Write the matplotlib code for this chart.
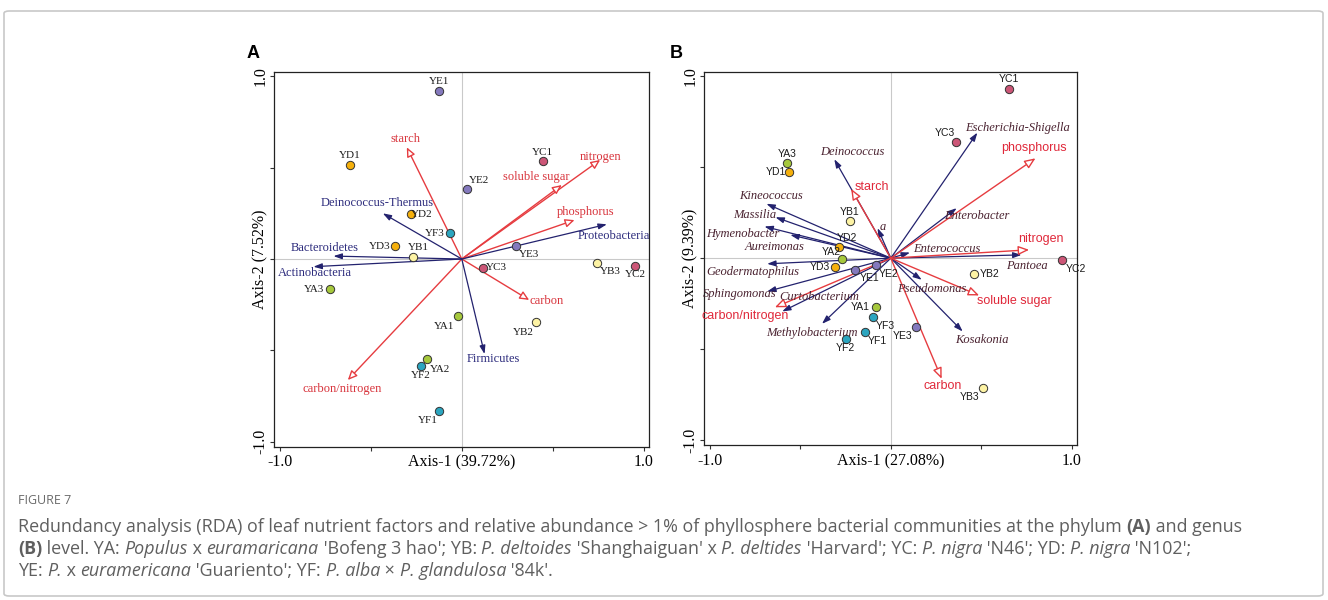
import matplotlib
matplotlib.use("Agg")
import matplotlib.pyplot as plt
from matplotlib.patches import FancyBboxPatch

# ---------------- data ----------------
SAMPLES = ['YA1', 'YA2', 'YA3', 'YB1', 'YB2', 'YB3', 'YC1', 'YC2', 'YC3',
           'YD1', 'YD2', 'YD3', 'YE1', 'YE2', 'YE3', 'YF1', 'YF2', 'YF3']

A_x = [-0.02, -0.189, -0.725, -0.267, 0.405, 0.745, 0.445, 0.951, 0.114,
       -0.614, -0.277, -0.368, -0.123, 0.029, 0.297, -0.123, -0.223, -0.066]
A_y = [-0.312, -0.549, -0.166, 0.011, -0.345, -0.02, 0.535, -0.038, -0.047,
       0.515, 0.246, 0.069, 0.92, 0.381, 0.073, -0.832, -0.586, 0.142]

B_x = [-0.081, -0.27, -0.573, -0.226, 0.459, 0.507, 0.654, 0.948, 0.36,
       -0.564, -0.285, -0.307, -0.195, -0.079, 0.138, -0.145, -0.25, -0.101]
B_y = [-0.267, -0.004, 0.524, 0.203, -0.088, -0.714, 0.93, -0.009, 0.639,
       0.473, 0.064, -0.051, -0.066, -0.038, -0.377, -0.405, -0.447, -0.322]

ENV = ['starch', 'nitrogen', 'soluble sugar', 'phosphorus', 'carbon', 'carbon/nitrogen']
A_env_x = [-0.302, 0.76, 0.549, 0.619, 0.37, -0.626]
A_env_y = [0.611, 0.542, 0.405, 0.213, -0.224, -0.662]
B_env_x = [-0.219, 0.764, 0.488, 0.799, 0.281, -0.64]
B_env_y = [0.381, 0.046, -0.205, 0.549, -0.663, -0.27]

PHYLA = ['Deinococcus-Thermus', 'Bacteroidetes', 'Actinobacteria', 'Proteobacteria', 'Firmicutes']
A_sp_x = [-0.434, -0.705, -0.815, 0.797, 0.125]
A_sp_y = [0.25, 0.016, -0.042, 0.19, -0.52]

GENERA = ['Deinococcus', 'Escherichia-Shigella', 'Kineococcus', 'Massilia', 'Hymenobacter',
          'Aureimonas', 'a', 'Enterobacter', 'Enterococcus', 'Pantoea', 'Geodermatophilus',
          'Sphingomonas', 'Curtobacterium', 'Methylobacterium', 'Pseudomonas', 'Kosakonia']
B_sp_x = [-0.312, 0.478, -0.687, -0.637, -0.698, -0.555, -0.073, 0.364, 0.106, 0.722,
          -0.683, -0.683, -0.6, -0.38, 0.171, 0.397]
B_sp_y = [0.544, 0.69, 0.299, 0.225, 0.174, 0.128, 0.165, 0.275, 0.031, 0.018,
          -0.031, -0.183, -0.293, -0.361, -0.119, -0.403]

A_AXIS = ['Axis-1 (39.72%)', 'Axis-2 (7.52%)']
B_AXIS = ['Axis-1 (27.08%)', 'Axis-2 (9.39%)']
TICKS = [-1.0, -0.5, 0.0, 0.5, 1.0]
TICK_LABELS = ['-1.0', '', '', '', '1.0']

# ---------------- layout (label placement) ----------------
A_env_lab = {'starch': (-0.308, 0.657), 'nitrogen': (0.762, 0.557),
             'soluble sugar': (0.407, 0.451), 'phosphorus': (0.683, 0.259),
             'carbon': (0.467, -0.228), 'carbon/nitrogen': (-0.658, -0.712)}
A_sp_lab = {'Deinococcus-Thermus': (-0.467, 0.307), 'Bacteroidetes': (-0.756, 0.062),
            'Actinobacteria': (-0.806, -0.075), 'Proteobacteria': (0.837, 0.128),
            'Firmicutes': (0.174, -0.547)}
B_env_lab = {'starch': (-0.107, 0.39), 'phosphorus': (0.792, 0.604),
             'nitrogen': (0.828, 0.104), 'soluble sugar': (0.68, -0.234),
             'carbon': (0.285, -0.705), 'carbon/nitrogen': (-0.804, -0.317)}
B_sp_lab = {'Deinococcus': (-0.215, 0.586), 'Escherichia-Shigella': (0.698, 0.718),
            'Kineococcus': (-0.659, 0.339), 'Massilia': (-0.749, 0.238),
            'Hymenobacter': (-0.817, 0.134), 'Aureimonas': (-0.643, 0.062),
            'a': (-0.044, 0.174), 'Enterobacter': (0.474, 0.234),
            'Enterococcus': (0.309, 0.051), 'Pantoea': (0.749, -0.042),
            'Geodermatophilus': (-0.76, -0.077), 'Sphingomonas': (-0.837, -0.198),
            'Curtobacterium': (-0.393, -0.216), 'Methylobacterium': (-0.437, -0.412),
            'Pseudomonas': (0.224, -0.17), 'Kosakonia': (0.501, -0.449)}
A_off = {'YA1': (-14, -10), 'YA2': (13, -10), 'YA3': (-16, 0), 'YB1': (5, 10),
         'YB2': (-12, -10), 'YB3': (13, -9), 'YC1': (0, 9), 'YC2': (0, -9),
         'YC3': (14, 0), 'YD1': (0, 9), 'YD2': (10, 0), 'YD3': (-15, 0),
         'YE1': (0, 9), 'YE2': (12, 9), 'YE3': (13, -9), 'YF1': (-12, -9),
         'YF2': (0, -9), 'YF3': (-15, 0)}
B_off = {'YA1': (-16, 0), 'YA2': (-11, 7), 'YA3': (0, 9), 'YB1': (0, 9),
         'YB2': (16, 0), 'YB3': (-13, -9), 'YC1': (0, 10), 'YC2': (13, -9),
         'YC3': (-11, 9), 'YD1': (-13, 0), 'YD2': (8, 9), 'YD3': (-15, 0),
         'YE1': (14, -8), 'YE2': (12, -9), 'YE3': (-13, -9), 'YF1': (13, -9),
         'YF2': (0, -9), 'YF3': (13, -9)}

GROUP_COLORS = {'YA': '#a6c83c', 'YB': '#fdf3a4', 'YC': '#cc5677',
                'YD': '#f5b00c', 'YE': '#8479bd', 'YF': '#2ba5bf'}
RED = '#e63c40'
NAVY = '#23226e'
SERIF = 'Liberation Serif'
SANS = 'Liberation Sans'

W, H = 1328, 600
fig = plt.figure(figsize=(W / 100, H / 100), dpi=100)
fig.patch.set_facecolor('white')

# outer frame
frame = FancyBboxPatch((4 / W, 4 / H), (W - 9) / W, (H - 15) / H,
                       boxstyle='round,pad=0,rounding_size=0.004',
                       transform=fig.transFigure, fc='none', ec='#c8c8c8', lw=1.2)
fig.patches.append(frame)


def px_ax(x0, y0, x1, y1):
    return fig.add_axes([x0 / W, 1 - y1 / H, (x1 - x0) / W, (y1 - y0) / H])


def setup_axes(ax, axis_labels):
    ax.set_xlim(-1.03, 1.03)
    ax.set_ylim(-1.027, 1.025)
    ax.axhline(0, color='#c9c9c9', lw=0.8, zorder=0)
    ax.axvline(0, color='#c9c9c9', lw=0.8, zorder=0)
    ax.set_xticks(TICKS)
    ax.set_xticklabels(TICK_LABELS)
    ax.set_yticks(TICKS)
    ax.set_yticklabels(TICK_LABELS)
    ax.tick_params(direction='out', length=3, width=0.8, labelsize=11.5, color='#333333')
    ax.tick_params(axis='x', pad=2.5)
    ax.tick_params(axis='y', pad=1)
    for lab in ax.get_xticklabels() + ax.get_yticklabels():
        lab.set_fontfamily(SERIF)
    for lab in ax.get_yticklabels():
        lab.set_rotation(90)
        lab.set_va('center')
    for s in ax.spines.values():
        s.set_linewidth(0.9)
        s.set_color('#222222')
    ax.annotate(axis_labels[0], xy=(0.5, 0), xycoords='axes fraction', xytext=(0, -16),
                textcoords='offset pixels', ha='center', va='center',
                fontsize=11.5, family=SERIF)
    ax.annotate(axis_labels[1], xy=(0, 0.5), xycoords='axes fraction', xytext=(-14, 0),
                textcoords='offset pixels', ha='center', va='center', rotation=90,
                fontsize=11.5, family=SERIF)


def arrow(ax, x, y, color, open_head, hl, hw, lw):
    ax.annotate('', xy=(x, y), xytext=(0, 0), xycoords='data', textcoords='data',
                arrowprops=dict(arrowstyle=f'-|>,head_length={hl},head_width={hw}',
                                ec=color, fc='white' if open_head else color,
                                lw=lw, shrinkA=0, shrinkB=0, mutation_scale=10),
                zorder=2)


def samples(ax, xs, ys, offs, family, size):
    for name, x, y in zip(SAMPLES, xs, ys):
        ax.scatter([x], [y], s=36, color=GROUP_COLORS[name[:2]], edgecolors='#333333',
                   linewidths=0.7, zorder=4)
        dx, dy = offs[name]
        ax.annotate(name, xy=(x, y), xytext=(dx, dy), textcoords='offset pixels',
                    ha='center', va='center', fontsize=size, family=family,
                    color='#1a1a1a', zorder=5)


# ---------------- Panel A ----------------
axA = px_ax(274.3, 71.7, 649.3, 446.7)
setup_axes(axA, A_AXIS)
for name, x, y in zip(ENV, A_env_x, A_env_y):
    arrow(axA, x, y, RED, True, 0.55, 0.25, 1.0)
    lx, ly = A_env_lab[name]
    axA.text(lx, ly, name, ha='center', va='center', color='#d8343c',
             fontsize=9, family=SERIF)
for name, x, y in zip(PHYLA, A_sp_x, A_sp_y):
    arrow(axA, x, y, NAVY, False, 0.5, 0.17, 0.9)
    lx, ly = A_sp_lab[name]
    axA.text(lx, ly, name, ha='center', va='center', color='#2c2b7c',
             fontsize=9, family=SERIF)
samples(axA, A_x, A_y, A_off, SERIF, 8)

# ---------------- Panel B ----------------
axB = px_ax(704.3, 71.7, 1077.3, 445.0)
setup_axes(axB, B_AXIS)
for name, x, y in zip(GENERA, B_sp_x, B_sp_y):
    arrow(axB, x, y, NAVY, False, 0.5, 0.17, 0.9)
    lx, ly = B_sp_lab[name]
    axB.text(lx, ly, name, ha='center', va='center', color='#4a2230',
             fontsize=9, family=SERIF, style='italic')
for name, x, y in zip(ENV, B_env_x, B_env_y):
    arrow(axB, x, y, RED, True, 0.65, 0.27, 1.0)
    lx, ly = B_env_lab[name]
    axB.text(lx, ly, name, ha='center', va='center', color='#e0283a',
             fontsize=9, family=SANS)
samples(axB, B_x, B_y, B_off, SANS, 7.5)

# panel letters
fig.text(253 / W, 1 - 53 / H, 'A', ha='center', va='center', fontsize=13,
         fontweight='bold', family=SANS)
fig.text(676 / W, 1 - 53 / H, 'B', ha='center', va='center', fontsize=13,
         fontweight='bold', family=SANS)

# ---------------- caption ----------------
CAP_FONT = 'Open Sans'
CAP_SIZE = 12.9
CAP_COLOR = '#5f5f5f'
fig.text(18 / W, 1 - 500 / H, 'FIGURE 7', ha='left', va='center', fontsize=9,
         family=CAP_FONT, color='#6a6a6a')

CAPTION = [
    [('Redundancy analysis (RDA) of leaf nutrient factors and relative abundance > 1% of '
      'phyllosphere bacterial communities at the phylum ', 'n'), ('(A)', 'b'), (' and genus', 'n')],
    [('(B)', 'b'), (' level. YA: ', 'n'), ('Populus', 'i'), (' x ', 'n'), ('euramaricana', 'i'),
     (" 'Bofeng 3 hao'; YB: ", 'n'), ('P. deltoides', 'i'), (" 'Shanghaiguan' x ", 'n'),
     ('P. deltides', 'i'), (" 'Harvard'; YC: ", 'n'), ('P. nigra', 'i'), (" 'N46'; YD: ", 'n'),
     ('P. nigra', 'i'), (" 'N102';", 'n')],
    [('YE: ', 'n'), ('P.', 'i'), (' x ', 'n'), ('euramericana', 'i'), (" 'Guariento'; YF: ", 'n'),
     ('P. alba', 'i'), (' \u00d7 ', 'n'), ('P. glandulosa', 'i'), (" '84k'.", 'n')],
]
CAP_Y = [527, 549, 571]

renderer = fig.canvas.get_renderer()


def style_kw(st):
    kw = dict(fontsize=CAP_SIZE, family=CAP_FONT, color=CAP_COLOR)
    if st == 'b':
        kw['fontweight'] = 'bold'
    if st == 'i':
        kw['style'] = 'italic'
    return kw


def text_width(s, kw):
    t1 = fig.text(0, 0, '|' + s + '|', **kw)
    t2 = fig.text(0, 0, '||', **kw)
    w = t1.get_window_extent(renderer).width - t2.get_window_extent(renderer).width
    t1.remove()
    t2.remove()
    return w


for runs, ypx in zip(CAPTION, CAP_Y):
    xpx = 18.0
    for s, st in runs:
        kw = style_kw(st)
        fig.text(xpx / W, 1 - ypx / H, s, ha='left', va='center', **kw)
        xpx += text_width(s, kw)

fig.savefig('out.png', dpi=100, facecolor='white')
